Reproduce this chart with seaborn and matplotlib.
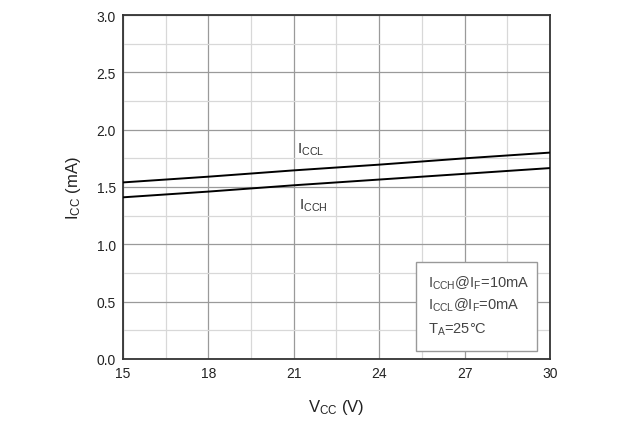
import matplotlib
matplotlib.use("Agg")
import matplotlib.pyplot as plt
import seaborn as sns
import pandas as pd
from matplotlib.ticker import MultipleLocator
from matplotlib.patches import Rectangle

vcc = [15, 18, 21, 24, 27, 30]
iccl = [1.54, 1.59, 1.645, 1.695, 1.75, 1.80]
icch = [1.41, 1.46, 1.515, 1.565, 1.615, 1.665]
x_ticks = [15, 18, 21, 24, 27, 30]
y_ticks = [0.0, 0.5, 1.0, 1.5, 2.0, 2.5, 3.0]
note_lines = [
    r"$\mathregular{I_{CCH}}$@$\mathregular{I_F}$=10mA",
    r"$\mathregular{I_{CCL}}$@$\mathregular{I_F}$=0mA",
    r"$\mathregular{T_A}$=25°C",
]

df = pd.DataFrame({
    "VCC": vcc * 2,
    "ICC": iccl + icch,
    "series": ["ICCL"] * len(vcc) + ["ICCH"] * len(vcc),
})

sns.set_theme(style="white")
plt.rcParams["font.family"] = ["Liberation Sans", "DejaVu Sans"]
plt.rcParams["mathtext.fontset"] = "custom"
plt.rcParams["mathtext.rm"] = "Liberation Sans"
plt.rcParams["mathtext.it"] = "Liberation Sans"

fig = plt.figure(figsize=(6.37, 4.39), dpi=100)
ax = fig.add_axes([123 / 637, 1 - 360 / 439, 427 / 637, 344 / 439])

sns.lineplot(data=df, x="VCC", y="ICC", units="series", estimator=None,
             color="black", linewidth=1.4, ax=ax, legend=False, zorder=3)

ax.set_xlim(15, 30)
ax.set_ylim(0, 3.0)
ax.set_xticks(x_ticks)
ax.set_yticks(y_ticks)
ax.set_xticklabels([str(v) for v in x_ticks])
ax.set_yticklabels([f"{v:.1f}" for v in y_ticks])
ax.xaxis.set_minor_locator(MultipleLocator(1.5))
ax.yaxis.set_minor_locator(MultipleLocator(0.25))
ax.grid(True, which="major", color="#9a9a9a", linewidth=0.9, zorder=0)
ax.grid(True, which="minor", color="#d8d8d8", linewidth=0.9, zorder=0)
ax.tick_params(which="both", length=0, labelsize=10, colors="#222222", pad=5)
for s in ax.spines.values():
    s.set_color("#333333")
    s.set_linewidth(1.3)

ax.set_xlabel(r"$\mathregular{V_{CC}}$ (V)", fontsize=12, color="#222222", labelpad=12)
ax.set_ylabel(r"$\mathregular{I_{CC}}$ (mA)", fontsize=12, color="#222222", labelpad=10)

ax.text(21.1, 1.80, r"$\mathregular{I_{CCL}}$", fontsize=11, color="#333333", zorder=4)
ax.text(21.2, 1.31, r"$\mathregular{I_{CCH}}$", fontsize=11, color="#333333", zorder=4)

ax.add_patch(Rectangle((0.686, 0.023), 0.284, 0.259, transform=ax.transAxes,
                       facecolor="white", edgecolor="#999999", linewidth=1.0, zorder=5))
for yy, line in zip([0.224, 0.158, 0.088], note_lines):
    ax.text(0.714, yy, line, transform=ax.transAxes, fontsize=10.5, color="#444444",
            va="center", ha="left", zorder=6)

fig.savefig("out.png", dpi=100)
